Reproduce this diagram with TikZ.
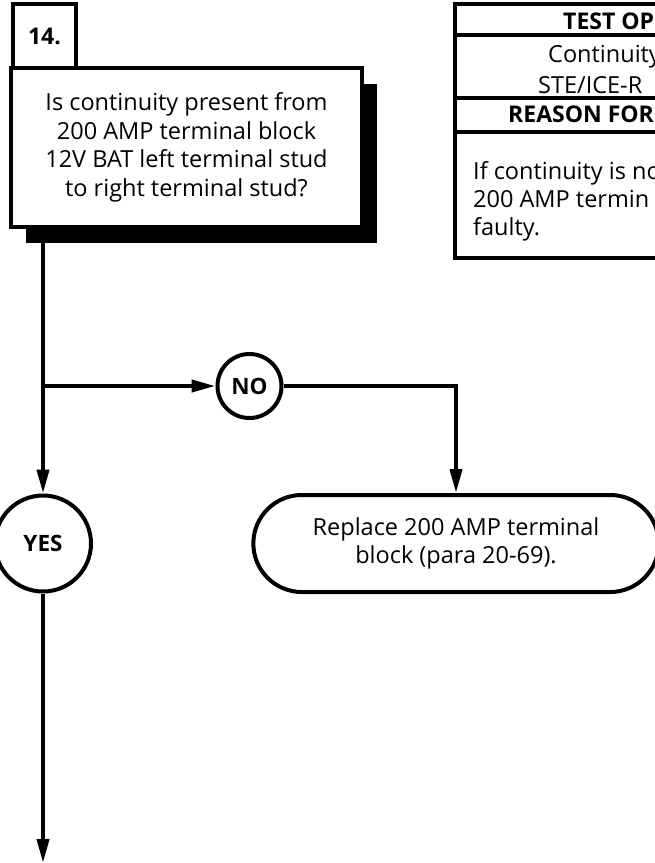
\documentclass[tikz,border=0pt]{standalone}
\usepackage{fontspec}
\setmainfont{Open Sans}
\usepackage{tikz}
\usetikzlibrary{positioning,arrows.meta,calc,shapes.misc,shadows}

\begin{document}
\begin{tikzpicture}[x=1pt, y=-1pt,
    qbox/.style={draw, line width=4pt, fill=white, align=center, minimum width=351pt, minimum height=159pt,
                 font=\fontsize{23.5}{28.5}\selectfont,
                 drop shadow={shadow xshift=15pt, shadow yshift=-16pt, fill=black, opacity=1}},
    numbox/.style={draw, line width=4pt, fill=white, minimum width=63pt, minimum height=64pt,
                   font=\fontsize{23}{26}\selectfont\bfseries},
    ans/.style={draw, circle, line width=4pt, fill=white, inner sep=0pt, font=\fontsize{22.5}{25}\selectfont\bfseries},
    endbox/.style={draw, rounded rectangle, line width=4pt, fill=white, align=center, minimum width=412pt,
                   minimum height=97pt, font=\fontsize{23.5}{28.5}\selectfont},
    tbtext/.style={anchor=base west, inner sep=0pt, font=\fontsize{23.5}{28}\selectfont},
    tbline/.style={line width=4.5pt},
    arr/.style={-{Triangle[length=24pt, width=12pt]}, line width=4pt}
]
\useasboundingbox (0,0) rectangle (655,863);
\clip (0,0) rectangle (655,863);
\node[qbox]   (q)   at (186.5,147.5) {Is continuity present from\\200 AMP terminal block\\12V BAT left terminal stud\\to right terminal stud?};
\node[numbox] (num) at (44.5,36) {14.};
\node[ans, minimum size=64pt] (no)  at (249.5,386) {NO};
\node[ans, minimum size=96pt] (yes) at (43,543.5) {YES};
\node[endbox] (rep) at (456,543.5) {Replace 200 AMP terminal\\block (para 20-69).};
\coordinate (br)   at (43,386);
\coordinate (exit) at (43,863);
\draw[arr] (q.south -| yes.north) -- (yes.north);
\draw[arr] (br) -- (no.west);
\draw[arr] (no.east) -| (rep.north);
\draw[arr] (yes.south) -- (exit);
\draw[tbline] (455,4) rectangle (720,258);
\draw[tbline] (455,35) -- (720,35);
\draw[tbline] (455,98) -- (720,98);
\draw[tbline] (455,132) -- (720,132);
\node[tbtext, font=\fontsize{23}{28}\selectfont\bfseries] (thead) at (563,29)  {TEST OP};
\node[tbtext] (tone)   at (548,62)  {Continuity};
\node[tbtext] (ttwo)   at (538,93)  {STE/ICE-R};
\node[tbtext, font=\fontsize{23}{28}\selectfont\bfseries] (rhead) at (508,122) {REASON FOR};
\node[tbtext] (rone)   at (473,179) {If continuity is no};
\node[tbtext] (rtwo)   at (473,207) {200 AMP termin};
\node[tbtext] (rthree) at (473,235) {faulty.};
\end{tikzpicture}
\end{document}
